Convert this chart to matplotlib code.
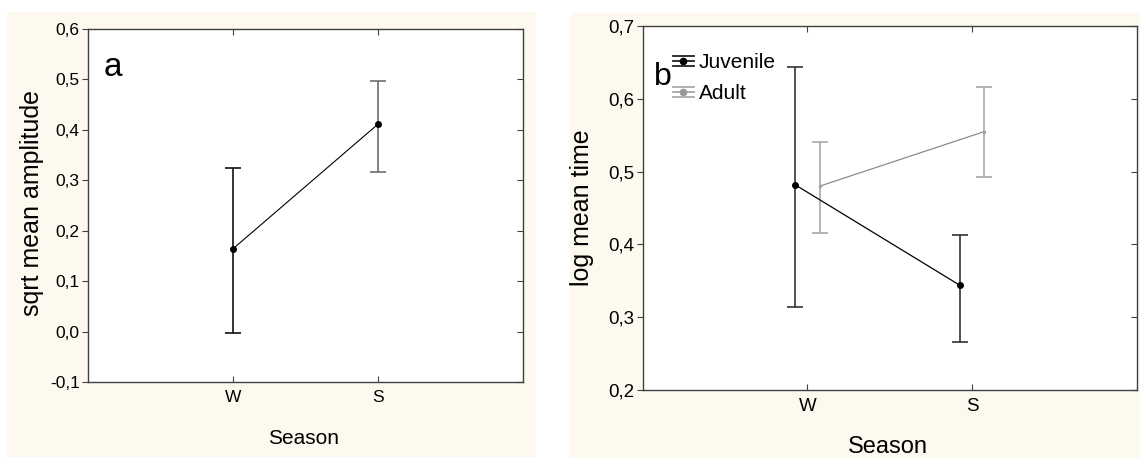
import matplotlib
matplotlib.use("Agg")
import matplotlib.pyplot as plt
from matplotlib.patches import Rectangle
from matplotlib.lines import Line2D
from matplotlib.legend_handler import HandlerBase

plt.rcParams['font.family'] = ['Liberation Sans', 'DejaVu Sans']

CREAM = "#fdf9ef"
SPINE = "#404040"

seasons = ["W", "S"]
season_pos = [1, 2]

# panel a: sqrt mean amplitude
amp_mean = [0.164, 0.411]
amp_low = [-0.003, 0.317]
amp_high = [0.325, 0.496]
amp_bar_colors = ["#111111", "#6e6e6e"]

# panel b: log mean time, by age group
groups = ["Juvenile", "Adult"]
juv_mean = [0.482, 0.344]
juv_low = [0.314, 0.266]
juv_high = [0.644, 0.413]
adu_mean = [0.480, 0.555]
adu_low = [0.416, 0.492]
adu_high = [0.540, 0.616]

a_yticks = [-0.1, 0.0, 0.1, 0.2, 0.3, 0.4, 0.5, 0.6]
b_yticks = [0.2, 0.3, 0.4, 0.5, 0.6, 0.7]

W, H = 1140, 459
fig = plt.figure(figsize=(W / 100, H / 100), dpi=100, facecolor="white")


def px_box(x0, y0, x1, y1):
    # pixel box (top-left origin) -> figure fraction rect
    return (x0 / W, 1 - y1 / H, (x1 - x0) / W, (y1 - y0) / H)


for box in [px_box(7, 12, 536, 457), px_box(570, 13, 1140, 458)]:
    fig.patches.append(Rectangle(box[:2], box[2], box[3], transform=fig.transFigure,
                                 facecolor=CREAM, edgecolor="none", zorder=-10))

ax_a = fig.add_axes(px_box(88, 29, 522.7, 382))
ax_b = fig.add_axes(px_box(642.7, 26, 1136.7, 390))


def style_axes(ax, yticks, ticksize):
    ax.set_facecolor("white")
    for s in ax.spines.values():
        s.set_color(SPINE)
        s.set_linewidth(1.0)
    ax.set_xlim(0, 3)
    ax.set_xticks(season_pos)
    ax.set_xticklabels(seasons)
    ax.set_yticks(yticks)
    ax.set_yticklabels([("%.1f" % t).replace(".", ",") for t in yticks])
    ax.set_ylim(yticks[0], yticks[-1])
    ax.tick_params(axis="y", left=True, right=True, direction="out",
                   length=4, width=0.8, color=SPINE, labelsize=ticksize, pad=2)
    ax.tick_params(axis="x", top=True, bottom=True, direction="in",
                   length=4, width=0.8, color=SPINE, labelsize=ticksize, pad=6)
    # right-hand ticks point inward
    for t in ax.yaxis.get_major_ticks():
        t.tick2line.set_marker(0)
        t.tick2line.set_markersize(4)


class StackedBarHandler(HandlerBase):
    # little "≡" icon with a dot, like the original legend
    def create_artists(self, legend, orig_handle, xdescent, ydescent,
                       width, height, fontsize, trans):
        c = orig_handle.get_color()
        mc = orig_handle.get_markerfacecolor()
        yc = height / 2 - ydescent
        d = 0.24 * fontsize
        arts = []
        for dy in (-d, 0, d):
            arts.append(Line2D([-xdescent, -xdescent + width], [yc + dy, yc + dy],
                               color=c, lw=1.3, transform=trans))
        arts.append(Line2D([-xdescent + width / 2], [yc], marker="o", ms=4.5,
                           color=mc, mec=mc, ls="none", transform=trans))
        return arts


# ---- panel a ----
style_axes(ax_a, a_yticks, 12.5)
ax_a.plot(season_pos, amp_mean, color="black", lw=0.8, zorder=2)
for x, m, lo, hi, c in zip(season_pos, amp_mean, amp_low, amp_high, amp_bar_colors):
    ax_a.errorbar([x], [m], yerr=[[m - lo], [hi - m]], fmt="none", ecolor=c,
                  elinewidth=1.2, capsize=5.5, capthick=1.2, zorder=3)
ax_a.plot(season_pos, amp_mean, "o", color="black", ms=4, zorder=4)
ax_a.set_xlabel("Season", fontsize=15)
ax_a.xaxis.set_label_coords(0.497, -0.159)
ax_a.xaxis.label.set_va("center")
ax_a.set_ylabel("sqrt mean amplitude", fontsize=18)
ax_a.yaxis.set_label_coords(-0.129, 0.507)
ax_a.yaxis.label.set_va("center")
ax_a.text(0.0575, 0.892, "a", transform=ax_a.transAxes, fontsize=24,
          ha="center", va="center")

# ---- panel b ----
style_axes(ax_b, b_yticks, 13.5)
dodge = 0.075
juv_x = [p - dodge for p in season_pos]
adu_x = [p + dodge for p in season_pos]

ax_b.plot(adu_x, adu_mean, color="#8c8c8c", lw=0.9, zorder=2)
ax_b.errorbar(adu_x, adu_mean,
              yerr=[[m - lo for m, lo in zip(adu_mean, adu_low)],
                    [hi - m for m, hi in zip(adu_mean, adu_high)]],
              fmt="o", ms=1.5, color="#a0a0a0", ecolor="#a9a9a9",
              elinewidth=1.2, capsize=6, capthick=1.2, zorder=3)
ax_b.plot(juv_x, juv_mean, color="black", lw=0.9, zorder=4)
ax_b.errorbar(juv_x, juv_mean,
              yerr=[[m - lo for m, lo in zip(juv_mean, juv_low)],
                    [hi - m for m, hi in zip(juv_mean, juv_high)]],
              fmt="o", ms=4, color="black", ecolor="#333333",
              elinewidth=1.2, capsize=6, capthick=1.2, zorder=5)

h_juv = Line2D([], [], color="#222222", markerfacecolor="black")
h_adu = Line2D([], [], color="#a9a9a9", markerfacecolor="#999999")
ax_b.legend(handles=[h_juv, h_adu], labels=groups,
            handler_map={h_juv: StackedBarHandler(), h_adu: StackedBarHandler()},
            loc="upper left", bbox_to_anchor=(0.0613, 0.925), frameon=False,
            fontsize=15, handlelength=1.0, handletextpad=0.25, borderpad=0,
            borderaxespad=0, labelspacing=0.58)

ax_b.set_xlabel("Season", fontsize=17)
ax_b.xaxis.set_label_coords(0.497, -0.156)
ax_b.xaxis.label.set_va("center")
ax_b.set_ylabel("log mean time", fontsize=18)
ax_b.yaxis.set_label_coords(-0.123, 0.501)
ax_b.yaxis.label.set_va("center")
ax_b.text(0.04, 0.861, "b", transform=ax_b.transAxes, fontsize=23,
          ha="center", va="center")

fig.savefig("out.png", dpi=100, facecolor="white")
